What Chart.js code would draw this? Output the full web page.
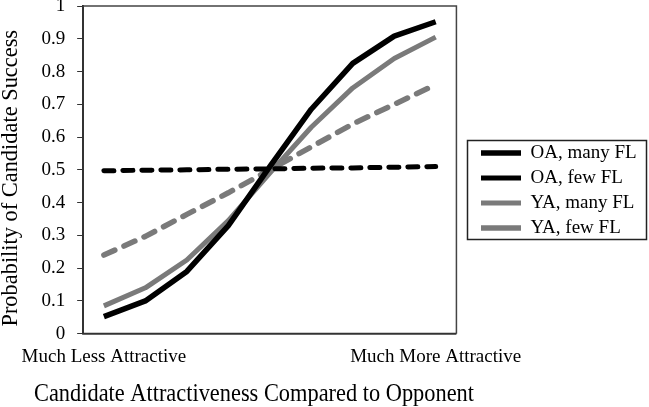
<!DOCTYPE html>
<html>
<head>
  <meta charset="UTF-8">
  <title>Candidate Success by Attractiveness</title>
  <script src="https://cdn.jsdelivr.net/npm/chart.js"></script>
  <style>
    html, body { margin: 0; padding: 0; background: #fff; }
    #wrap { width: 649px; height: 407px; }
  </style>
</head>
<body>
  <div id="wrap"><canvas id="plot" width="649" height="407"></canvas></div>

  <script>
    // x categories (only the two ends are labelled)
    const attractLabels = ['Much Less Attractive', '', '', '', '', '', '', '', 'Much More Attractive'];
    const yTickLabels = ['0', '0.1', '0.2', '0.3', '0.4', '0.5', '0.6', '0.7', '0.8', '0.9', '1'];

    const oaMany = [0.052, 0.10, 0.19, 0.33, 0.51, 0.685, 0.825, 0.908, 0.952];
    const oaFew  = [0.497, 0.499, 0.500, 0.502, 0.503, 0.505, 0.506, 0.508, 0.510];
    const yaMany = [0.085, 0.14, 0.225, 0.345, 0.49, 0.63, 0.75, 0.84, 0.905];
    const yaFew  = [0.24, 0.297, 0.364, 0.43, 0.50, 0.57, 0.64, 0.70, 0.76];

    const serif = '"Liberation Serif", "Times New Roman", serif';
    const axisColor = '#333';

    // nudge legend + x title into place, box round the plot and round the legend
    const frames = {
      id: 'frames',
      afterLayout(chart) {
        const lg = chart.legend;
        const dx = 481 - (lg.left + lg.options.labels.padding);
        lg.left += dx; lg.right += dx;
        lg.top -= 13; lg.bottom -= 13;
        // x title is wider than the plot in the original, let it spill over
        const xs = chart.scales.x;
        xs.left = 34; xs.right = 474;
      },
      afterDraw(chart) {
        const ctx = chart.ctx;
        const a = chart.chartArea;
        ctx.save();
        ctx.strokeStyle = '#444';
        ctx.lineWidth = 1.5;
        ctx.beginPath();
        ctx.moveTo(a.left, a.top);
        ctx.lineTo(a.right, a.top);
        ctx.lineTo(a.right, a.bottom);
        ctx.stroke();
        ctx.strokeStyle = axisColor;
        ctx.lineWidth = 2;
        ctx.beginPath();
        ctx.moveTo(a.left - 1, a.bottom);
        ctx.lineTo(a.right, a.bottom);
        ctx.stroke();
        ctx.strokeStyle = '#222';
        ctx.lineWidth = 1.5;
        ctx.strokeRect(467.5, 140.5, 179, 99);
        ctx.restore();
      }
    };

    new Chart(document.getElementById('plot'), {
      type: 'line',
      data: {
        labels: attractLabels,
        datasets: [
          { label: 'OA, many FL', data: oaMany, borderColor: '#000', borderWidth: 5.5 },
          { label: 'OA, few FL', data: oaFew, borderColor: '#000', borderWidth: 5, borderDash: [10, 9], borderCapStyle: 'round' },
          { label: 'YA, many FL', data: yaMany, borderColor: '#7a7a7a', borderWidth: 5 },
          { label: 'YA, few FL', data: yaFew, borderColor: '#7a7a7a', borderWidth: 5.5, borderDash: [12, 10], borderCapStyle: 'round' }
        ]
      },
      options: {
        responsive: false,
        animation: false,
        layout: { padding: { left: 0, right: 21, top: 0, bottom: 0 } },
        elements: { point: { radius: 0 }, line: { tension: 0, borderJoinStyle: 'round' } },
        plugins: {
          tooltip: { enabled: false },
          legend: {
            position: 'right',
            maxWidth: 220,
            labels: {
              usePointStyle: true,
              pointStyle: 'line',
              pointStyleWidth: 40,
              padding: 6,
              color: '#000',
              font: { family: serif, size: 19 }
            }
          }
        },
        scales: {
          x: {
            offset: true,
            grid: { display: false, drawTicks: false, tickLength: 0 },
            border: { display: false },
            ticks: {
              autoSkip: false, maxRotation: 0, padding: 12, color: '#000',
              font: { family: serif, size: 19 }
            },
            title: {
              display: true, text: 'Candidate Attractiveness Compared to Opponent', color: '#000',
              font: { family: serif, size: 24.5, lineHeight: 1.0 }, padding: { top: 2, bottom: 0 }
            }
          },
          y: {
            min: 0, max: 1,
            afterFit(s) { s.paddingTop = 6; s.paddingBottom = 0; },
            grid: { drawOnChartArea: false, drawTicks: true, tickLength: 6, color: axisColor },
            border: { display: true, color: axisColor, width: 2 },
            ticks: {
              stepSize: 0.1, padding: 12, color: '#000',
              font: { family: serif, size: 19 },
              callback: (v, i) => yTickLabels[i]
            },
            title: {
              display: true, text: 'Probability of Candidate Success   ', color: '#000',
              font: { family: serif, size: 22.4, lineHeight: 1.0 }, padding: { top: 0, bottom: 7 }
            }
          }
        }
      },
      plugins: [frames]
    });
  </script>
</body>
</html>
